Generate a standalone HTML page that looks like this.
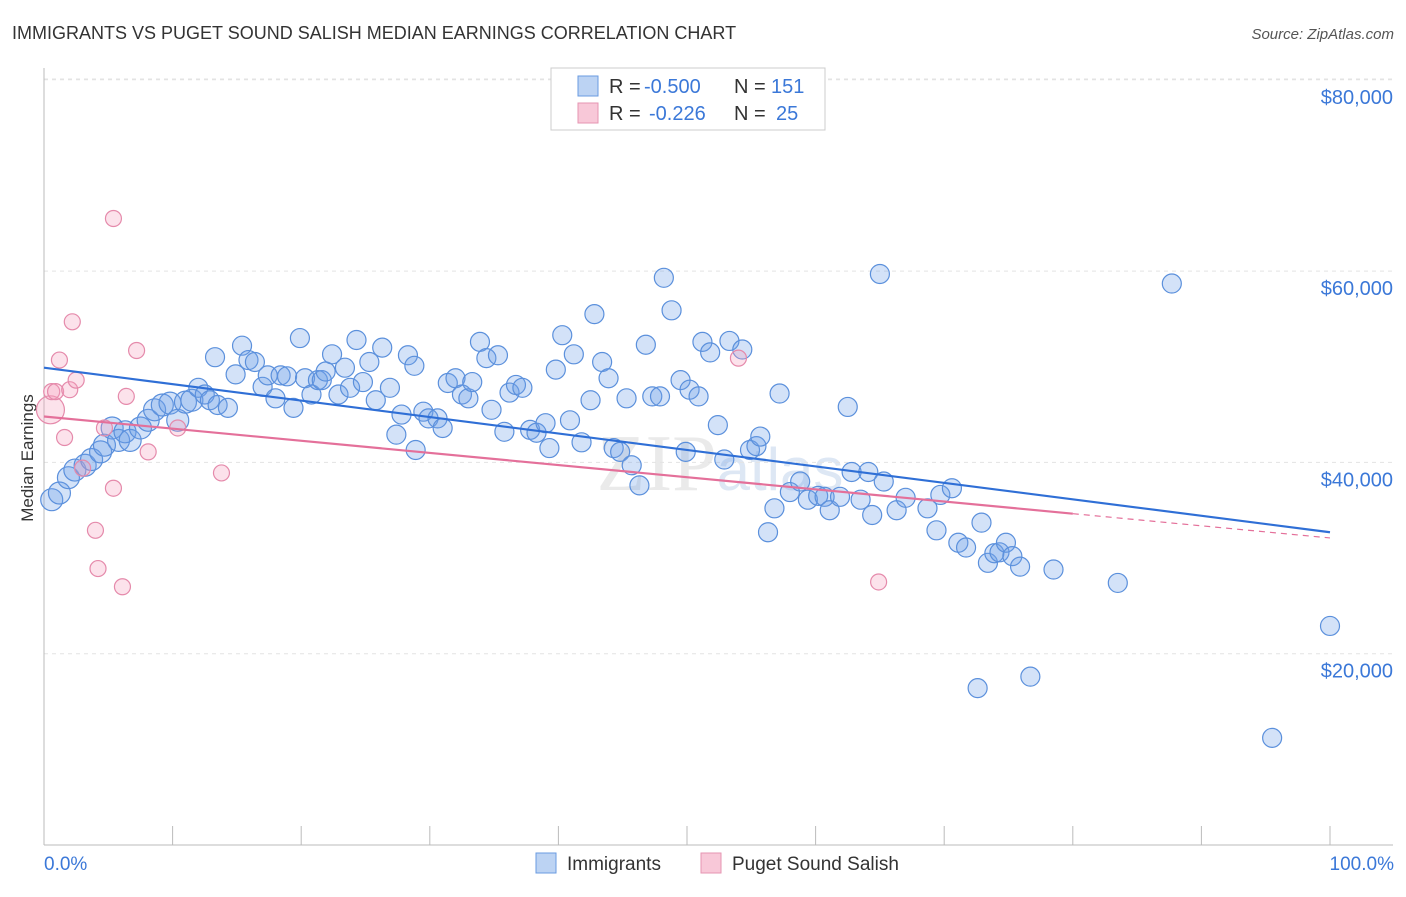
<!DOCTYPE html>
<html><head><meta charset="utf-8"><style>
body{margin:0;background:#fff;font-family:"Liberation Sans",sans-serif;}
</style></head><body>
<svg id="chart" width="1406" height="892" xmlns="http://www.w3.org/2000/svg" font-family="Liberation Sans, sans-serif">
<text x="12" y="39" font-size="18" fill="#333">IMMIGRANTS VS PUGET SOUND SALISH MEDIAN EARNINGS CORRELATION CHART</text>
<text x="1394" y="39" font-size="15" fill="#555" text-anchor="end" font-style="italic">Source: ZipAtlas.com</text>
<text transform="translate(33,458) rotate(-90)" font-size="17" fill="#333" text-anchor="middle">Median Earnings</text>
<text x="720" y="490" font-size="80" fill="#ddd" text-anchor="middle" font-family="Liberation Serif, serif" opacity="0.6">ZIP<tspan fill="#c8d8ee" font-family="Liberation Sans" font-size="60">atlas</tspan></text>
<g id="grid"></g><g id="axes"></g><g id="marks"></g>
<g>
<rect x="551" y="68" width="274" height="62" fill="#fff" stroke="#ccc"/>
<rect x="578" y="76" width="20" height="20" fill="#bcd3f3" stroke="#6a9be0"/>
<text x="609" y="93" font-size="20" fill="#333">R =</text>
<text x="644" y="93" font-size="20" fill="#3b78d8">-0.500</text>
<text x="734" y="93" font-size="20" fill="#333">N =</text>
<text x="771" y="93" font-size="20" fill="#3b78d8">151</text>
<rect x="578" y="103" width="20" height="20" fill="#f8c8d8" stroke="#e695b2"/>
<text x="609" y="120" font-size="20" fill="#333">R =</text>
<text x="649" y="120" font-size="20" fill="#3b78d8">-0.226</text>
<text x="734" y="120" font-size="20" fill="#333">N =</text>
<text x="776" y="120" font-size="20" fill="#3b78d8">25</text>
</g>
<g>
<rect x="536" y="853" width="20" height="20" fill="#bcd3f3" stroke="#6a9be0"/>
<text x="567" y="870" font-size="19" fill="#333">Immigrants</text>
<rect x="701" y="853" width="20" height="20" fill="#f8c8d8" stroke="#e695b2"/>
<text x="732" y="870" font-size="19" fill="#333">Puget Sound Salish</text>
</g>
</svg>
<script>
const yTicks=[20000,40000,60000,80000];
const yTickLabels=["$20,000","$40,000","$60,000","$80,000"];
const xTicks=[0,10,20,30,40,50,60,70,80,90,100];
const blueX=[0.6,1.2,1.9,2.4,3.2,3.7,4.4,4.7,5.3,5.8,6.3,6.7,7.5,8.1,8.6,9.2,9.8,10.4,11.0,11.5,12.0,12.5,12.9,13.5,14.3,13.3,14.9,15.4,15.9,16.4,17.0,17.4,18.0,18.4,18.9,19.4,19.9,20.3,20.8,21.3,21.6,21.9,22.4,22.9,23.4,23.8,24.3,24.8,25.3,25.8,26.3,26.9,27.4,27.8,28.3,28.8,28.9,29.5,29.9,30.6,31.0,31.4,32.0,32.5,33.0,33.3,33.9,34.4,34.8,35.3,35.8,36.2,36.7,37.2,37.8,38.3,39.0,39.3,39.8,40.3,40.9,41.2,41.8,42.5,42.8,43.4,43.9,44.3,44.8,45.3,45.7,46.3,46.8,47.3,47.9,48.2,48.8,49.5,49.9,50.2,50.9,51.2,51.8,52.4,52.9,53.3,54.3,54.9,55.4,55.7,56.3,56.8,57.2,58.0,58.8,59.4,60.2,60.7,61.1,61.9,62.5,62.8,63.5,64.1,64.4,65.0,65.3,66.3,67.0,68.7,69.4,69.7,70.6,71.1,71.7,72.9,73.4,73.9,74.3,74.8,75.3,75.9,72.6,76.7,78.5,83.5,87.7,95.5,100.0];
const blueY=[36.1,36.8,38.4,39.2,39.7,40.3,41.1,41.8,43.6,42.3,43.2,42.3,43.6,44.4,45.5,46.0,46.2,44.4,46.3,46.5,47.8,47.1,46.5,46.0,45.7,51.0,49.2,52.2,50.7,50.5,47.9,49.1,46.7,49.1,49.0,45.7,53.0,48.8,47.1,48.6,48.6,49.5,51.3,47.1,49.9,47.8,52.8,48.4,50.5,46.5,52.0,47.8,42.9,45.0,51.2,50.1,41.3,45.3,44.6,44.6,43.6,48.3,48.8,47.1,46.7,48.4,52.6,50.9,45.5,51.2,43.2,47.3,48.1,47.8,43.4,43.1,44.1,41.5,49.7,53.3,44.4,51.3,42.1,46.5,55.5,50.5,48.8,41.5,41.1,46.7,39.7,37.6,52.3,46.9,46.9,59.3,55.9,48.6,41.1,47.6,46.9,52.6,51.5,43.9,40.3,52.7,51.8,41.3,41.7,42.7,32.7,35.2,47.2,36.9,38.0,36.1,36.5,36.4,35.0,36.4,45.8,39.0,36.1,39.0,34.5,59.7,38.0,35.0,36.3,35.2,32.9,36.6,37.3,31.6,31.1,33.7,29.5,30.5,30.6,31.6,30.2,29.1,16.4,17.6,28.8,27.4,58.7,11.2,22.9];
const pinkX=[0.5,0.6,0.9,1.2,1.6,2.0,2.2,2.5,3.0,4.0,4.2,4.7,5.4,5.4,6.1,6.4,7.2,8.1,10.4,13.8,54.0,64.9];
const pinkY=[45.5,47.4,47.4,50.7,42.6,47.6,54.7,48.6,39.4,32.9,28.9,43.6,65.5,37.3,27.0,46.9,51.7,41.1,43.6,38.9,50.9,27.5];
const blueTrend=[49.9,32.7];
const pinkTrend=[44.8,32.1];
const pinkSolidEnd=80;

const NS="http://www.w3.org/2000/svg";
const X0=44,X1=1330,Y0=845,PXK=9.565;
const sx=v=>X0+(X1-X0)*v/100;
const sy=k=>Y0-k*PXK;
function mk(parent,tag,attrs){const e=document.createElementNS(NS,tag);for(const k in attrs)e.setAttribute(k,attrs[k]);document.getElementById(parent).appendChild(e);return e;}
yTicks.forEach((t,i)=>{
 const g=mk('grid','line',{x1:44,x2:1393,y1:sy(t/1000),y2:sy(t/1000),stroke:'#e3e3e3','stroke-dasharray':'4,4'});
 
 
 const l=mk('axes','text',{x:1393,y:sy(t/1000)+24,'font-size':20,fill:'#3b78d8','text-anchor':'end'});
 l.textContent=yTickLabels[i];
 
 
});
const tg=mk('grid','line',{x1:44,x2:1393,y1:79,y2:79,stroke:'#e3e3e3','stroke-dasharray':'4,4'});


const ya=mk('axes','line',{x1:44,x2:44,y1:68,y2:845,stroke:'#bbb'});


const xa=mk('axes','line',{x1:44,x2:1393,y1:845,y2:845,stroke:'#bbb'});


xTicks.forEach(t=>{
 const e=mk('axes','line',{x1:sx(t),x2:sx(t),y1:826,y2:845,stroke:'#bbb'});
 
 
});
const xl0=mk('axes','text',{x:44,y:870,'font-size':19,fill:'#3b78d8'});xl0.textContent='0.0%';


const xl1=mk('axes','text',{x:1394,y:870,'font-size':19,fill:'#3b78d8','text-anchor':'end'});xl1.textContent='100.0%';



blueX.forEach((x,i)=>{
 const c=mk('marks','circle',{cx:sx(x),cy:sy(blueY[i]),r:x<12?11:9.5,fill:'rgba(110,160,232,0.3)',stroke:'#5b90dc','stroke-width':1.2});
 
 
});
pinkX.forEach((x,i)=>{
 const c=mk('marks','circle',{cx:sx(x),cy:sy(pinkY[i]),r:i===0?14:8,fill:'rgba(244,160,190,0.3)',stroke:'#e58aab','stroke-width':1.2});
 
 
});
const bl=mk('marks','line',{x1:sx(0),y1:sy(blueTrend[0]),x2:sx(100),y2:sy(blueTrend[1]),stroke:'#2f6fd6','stroke-width':2.2});


const pm=pinkTrend[0]+(pinkTrend[1]-pinkTrend[0])*pinkSolidEnd/100;
const pl=mk('marks','line',{x1:sx(0),y1:sy(pinkTrend[0]),x2:sx(pinkSolidEnd),y2:sy(pm),stroke:'#e4709a','stroke-width':2.2});


const pd=mk('marks','line',{x1:sx(pinkSolidEnd),y1:sy(pm),x2:sx(100),y2:sy(pinkTrend[1]),stroke:'#e4709a','stroke-width':1.2,'stroke-dasharray':'6,5'});


</script>
</body></html>
